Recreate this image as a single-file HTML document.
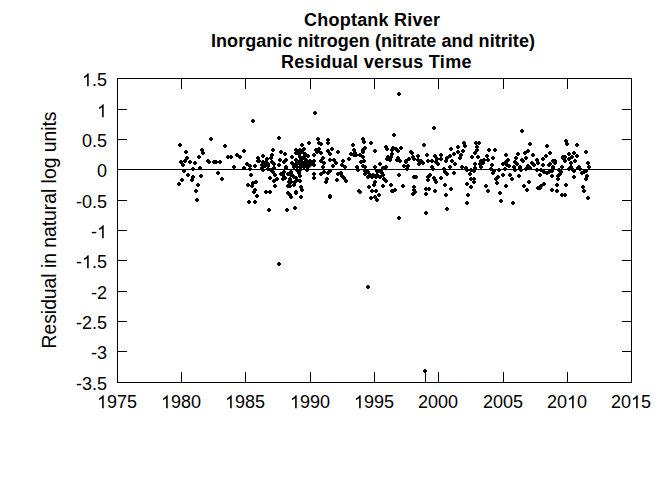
<!DOCTYPE html>
<html><head><meta charset="utf-8"><style>
html,body{margin:0;padding:0;background:#fff;width:672px;height:480px;overflow:hidden;position:relative}
.t{position:absolute;font-family:"Liberation Sans",sans-serif;color:#000;white-space:nowrap;line-height:20px}
.ti{font-weight:bold;font-size:18px}
.yl{font-size:18px;right:565px;text-align:right}
.o{position:relative;color:transparent}.o svg{position:absolute;left:0;top:0;overflow:visible}
.xl{font-size:18px;width:80px;text-align:center}
</style></head><body>
<svg width="672" height="480" style="position:absolute;left:0;top:0" shape-rendering="crispEdges"><rect x="117" y="78" width="515" height="1"/><rect x="117" y="382" width="515" height="1"/><rect x="117" y="78" width="1" height="305"/><rect x="631" y="78" width="1" height="305"/><rect x="181" y="78" width="1" height="11"/><rect x="181" y="372" width="1" height="10"/><rect x="245" y="78" width="1" height="11"/><rect x="245" y="372" width="1" height="10"/><rect x="310" y="78" width="1" height="11"/><rect x="310" y="372" width="1" height="10"/><rect x="374" y="78" width="1" height="11"/><rect x="374" y="372" width="1" height="10"/><rect x="438" y="78" width="1" height="11"/><rect x="438" y="372" width="1" height="10"/><rect x="503" y="78" width="1" height="11"/><rect x="503" y="372" width="1" height="10"/><rect x="567" y="78" width="1" height="11"/><rect x="567" y="372" width="1" height="10"/><rect x="117" y="109" width="10" height="1"/><rect x="622" y="109" width="10" height="1"/><rect x="117" y="139" width="10" height="1"/><rect x="622" y="139" width="10" height="1"/><rect x="117" y="169" width="10" height="1"/><rect x="622" y="169" width="10" height="1"/><rect x="117" y="200" width="10" height="1"/><rect x="622" y="200" width="10" height="1"/><rect x="117" y="230" width="10" height="1"/><rect x="622" y="230" width="10" height="1"/><rect x="117" y="260" width="10" height="1"/><rect x="622" y="260" width="10" height="1"/><rect x="117" y="291" width="10" height="1"/><rect x="622" y="291" width="10" height="1"/><rect x="117" y="321" width="10" height="1"/><rect x="622" y="321" width="10" height="1"/><rect x="117" y="351" width="10" height="1"/><rect x="622" y="351" width="10" height="1"/><rect x="117" y="169" width="515" height="1"/><path d="M179 143h2v1h1v2h-1v1h-2v-1h-1v-2h1zM210 137h2v1h1v2h-1v1h-2v-1h-1v-2h1zM224 144h2v1h1v2h-1v1h-2v-1h-1v-2h1zM185 150h2v1h1v2h-1v1h-2v-1h-1v-2h1zM201 148h2v1h1v2h-1v1h-2v-1h-1v-2h1zM202 151h2v1h1v2h-1v1h-2v-1h-1v-2h1zM186 156h2v1h1v2h-1v1h-2v-1h-1v-2h1zM198 155h2v1h1v2h-1v1h-2v-1h-1v-2h1zM184 159h2v1h1v2h-1v1h-2v-1h-1v-2h1zM180 160h2v1h1v2h-1v1h-2v-1h-1v-2h1zM182 163h2v1h1v2h-1v1h-2v-1h-1v-2h1zM189 160h2v1h1v2h-1v1h-2v-1h-1v-2h1zM194 161h2v1h1v2h-1v1h-2v-1h-1v-2h1zM207 159h2v1h1v2h-1v1h-2v-1h-1v-2h1zM208 160h2v1h1v2h-1v1h-2v-1h-1v-2h1zM213 160h2v1h1v2h-1v1h-2v-1h-1v-2h1zM215 160h2v1h1v2h-1v1h-2v-1h-1v-2h1zM219 160h2v1h1v2h-1v1h-2v-1h-1v-2h1zM227 155h2v1h1v2h-1v1h-2v-1h-1v-2h1zM230 155h2v1h1v2h-1v1h-2v-1h-1v-2h1zM236 153h2v1h1v2h-1v1h-2v-1h-1v-2h1zM233 165h2v1h1v2h-1v1h-2v-1h-1v-2h1zM183 169h2v1h1v2h-1v1h-2v-1h-1v-2h1zM192 167h2v1h1v2h-1v1h-2v-1h-1v-2h1zM199 166h2v1h1v2h-1v1h-2v-1h-1v-2h1zM187 173h2v1h1v2h-1v1h-2v-1h-1v-2h1zM200 174h2v1h1v2h-1v1h-2v-1h-1v-2h1zM217 171h2v1h1v2h-1v1h-2v-1h-1v-2h1zM221 177h2v1h1v2h-1v1h-2v-1h-1v-2h1zM191 178h2v1h1v2h-1v1h-2v-1h-1v-2h1zM181 178h2v1h1v2h-1v1h-2v-1h-1v-2h1zM178 182h2v1h1v2h-1v1h-2v-1h-1v-2h1zM197 183h2v1h1v2h-1v1h-2v-1h-1v-2h1zM195 189h2v1h1v2h-1v1h-2v-1h-1v-2h1zM196 198h2v1h1v2h-1v1h-2v-1h-1v-2h1zM252 119h2v1h1v2h-1v1h-2v-1h-1v-2h1zM278 136h2v1h1v2h-1v1h-2v-1h-1v-2h1zM243 149h2v1h1v2h-1v1h-2v-1h-1v-2h1zM239 155h2v1h1v2h-1v1h-2v-1h-1v-2h1zM272 148h2v1h1v2h-1v1h-2v-1h-1v-2h1zM280 150h2v1h1v2h-1v1h-2v-1h-1v-2h1zM284 152h2v1h1v2h-1v1h-2v-1h-1v-2h1zM262 154h2v1h1v2h-1v1h-2v-1h-1v-2h1zM257 156h2v1h1v2h-1v1h-2v-1h-1v-2h1zM271 153h2v1h1v2h-1v1h-2v-1h-1v-2h1zM266 157h2v1h1v2h-1v1h-2v-1h-1v-2h1zM270 156h2v1h1v2h-1v1h-2v-1h-1v-2h1zM271 160h2v1h1v2h-1v1h-2v-1h-1v-2h1zM279 158h2v1h1v2h-1v1h-2v-1h-1v-2h1zM285 158h2v1h1v2h-1v1h-2v-1h-1v-2h1zM283 160h2v1h1v2h-1v1h-2v-1h-1v-2h1zM278 163h2v1h1v2h-1v1h-2v-1h-1v-2h1zM273 162h2v1h1v2h-1v1h-2v-1h-1v-2h1zM246 162h2v1h1v2h-1v1h-2v-1h-1v-2h1zM249 164h2v1h1v2h-1v1h-2v-1h-1v-2h1zM243 166h2v1h1v2h-1v1h-2v-1h-1v-2h1zM254 164h2v1h1v2h-1v1h-2v-1h-1v-2h1zM258 159h2v1h1v2h-1v1h-2v-1h-1v-2h1zM262 160h2v1h1v2h-1v1h-2v-1h-1v-2h1zM261 163h2v1h1v2h-1v1h-2v-1h-1v-2h1zM264 163h2v1h1v2h-1v1h-2v-1h-1v-2h1zM285 165h2v1h1v2h-1v1h-2v-1h-1v-2h1zM249 167h2v1h1v2h-1v1h-2v-1h-1v-2h1zM262 168h2v1h1v2h-1v1h-2v-1h-1v-2h1zM250 173h2v1h1v2h-1v1h-2v-1h-1v-2h1zM269 176h2v1h1v2h-1v1h-2v-1h-1v-2h1zM272 170h2v1h1v2h-1v1h-2v-1h-1v-2h1zM270 168h2v1h1v2h-1v1h-2v-1h-1v-2h1zM274 173h2v1h1v2h-1v1h-2v-1h-1v-2h1zM276 177h2v1h1v2h-1v1h-2v-1h-1v-2h1zM273 179h2v1h1v2h-1v1h-2v-1h-1v-2h1zM280 172h2v1h1v2h-1v1h-2v-1h-1v-2h1zM282 173h2v1h1v2h-1v1h-2v-1h-1v-2h1zM283 170h2v1h1v2h-1v1h-2v-1h-1v-2h1zM285 166h2v1h1v2h-1v1h-2v-1h-1v-2h1zM282 177h2v1h1v2h-1v1h-2v-1h-1v-2h1zM284 176h2v1h1v2h-1v1h-2v-1h-1v-2h1zM288 180h2v1h1v2h-1v1h-2v-1h-1v-2h1zM287 184h2v1h1v2h-1v1h-2v-1h-1v-2h1zM274 184h2v1h1v2h-1v1h-2v-1h-1v-2h1zM255 180h2v1h1v2h-1v1h-2v-1h-1v-2h1zM252 181h2v1h1v2h-1v1h-2v-1h-1v-2h1zM247 183h2v1h1v2h-1v1h-2v-1h-1v-2h1zM251 184h2v1h1v2h-1v1h-2v-1h-1v-2h1zM254 188h2v1h1v2h-1v1h-2v-1h-1v-2h1zM265 190h2v1h1v2h-1v1h-2v-1h-1v-2h1zM269 190h2v1h1v2h-1v1h-2v-1h-1v-2h1zM267 164h2v1h1v2h-1v1h-2v-1h-1v-2h1zM263 162h2v1h1v2h-1v1h-2v-1h-1v-2h1zM261 166h2v1h1v2h-1v1h-2v-1h-1v-2h1zM267 167h2v1h1v2h-1v1h-2v-1h-1v-2h1zM257 159h2v1h1v2h-1v1h-2v-1h-1v-2h1zM273 166h2v1h1v2h-1v1h-2v-1h-1v-2h1zM317 137h2v1h1v2h-1v1h-2v-1h-1v-2h1zM327 138h2v1h1v2h-1v1h-2v-1h-1v-2h1zM327 141h2v1h1v2h-1v1h-2v-1h-1v-2h1zM318 141h2v1h1v2h-1v1h-2v-1h-1v-2h1zM320 142h2v1h1v2h-1v1h-2v-1h-1v-2h1zM308 141h2v1h1v2h-1v1h-2v-1h-1v-2h1zM301 143h2v1h1v2h-1v1h-2v-1h-1v-2h1zM295 148h2v1h1v2h-1v1h-2v-1h-1v-2h1zM303 147h2v1h1v2h-1v1h-2v-1h-1v-2h1zM299 148h2v1h1v2h-1v1h-2v-1h-1v-2h1zM295 151h2v1h1v2h-1v1h-2v-1h-1v-2h1zM298 152h2v1h1v2h-1v1h-2v-1h-1v-2h1zM301 150h2v1h1v2h-1v1h-2v-1h-1v-2h1zM304 152h2v1h1v2h-1v1h-2v-1h-1v-2h1zM307 154h2v1h1v2h-1v1h-2v-1h-1v-2h1zM291 155h2v1h1v2h-1v1h-2v-1h-1v-2h1zM299 155h2v1h1v2h-1v1h-2v-1h-1v-2h1zM295 158h2v1h1v2h-1v1h-2v-1h-1v-2h1zM299 159h2v1h1v2h-1v1h-2v-1h-1v-2h1zM291 161h2v1h1v2h-1v1h-2v-1h-1v-2h1zM295 162h2v1h1v2h-1v1h-2v-1h-1v-2h1zM299 162h2v1h1v2h-1v1h-2v-1h-1v-2h1zM302 161h2v1h1v2h-1v1h-2v-1h-1v-2h1zM305 158h2v1h1v2h-1v1h-2v-1h-1v-2h1zM303 164h2v1h1v2h-1v1h-2v-1h-1v-2h1zM306 162h2v1h1v2h-1v1h-2v-1h-1v-2h1zM309 159h2v1h1v2h-1v1h-2v-1h-1v-2h1zM313 159h2v1h1v2h-1v1h-2v-1h-1v-2h1zM309 163h2v1h1v2h-1v1h-2v-1h-1v-2h1zM313 163h2v1h1v2h-1v1h-2v-1h-1v-2h1zM293 164h2v1h1v2h-1v1h-2v-1h-1v-2h1zM315 148h2v1h1v2h-1v1h-2v-1h-1v-2h1zM318 147h2v1h1v2h-1v1h-2v-1h-1v-2h1zM320 151h2v1h1v2h-1v1h-2v-1h-1v-2h1zM316 150h2v1h1v2h-1v1h-2v-1h-1v-2h1zM313 153h2v1h1v2h-1v1h-2v-1h-1v-2h1zM327 149h2v1h1v2h-1v1h-2v-1h-1v-2h1zM331 147h2v1h1v2h-1v1h-2v-1h-1v-2h1zM329 152h2v1h1v2h-1v1h-2v-1h-1v-2h1zM337 150h2v1h1v2h-1v1h-2v-1h-1v-2h1zM322 156h2v1h1v2h-1v1h-2v-1h-1v-2h1zM320 159h2v1h1v2h-1v1h-2v-1h-1v-2h1zM323 161h2v1h1v2h-1v1h-2v-1h-1v-2h1zM329 158h2v1h1v2h-1v1h-2v-1h-1v-2h1zM333 158h2v1h1v2h-1v1h-2v-1h-1v-2h1zM335 161h2v1h1v2h-1v1h-2v-1h-1v-2h1zM332 164h2v1h1v2h-1v1h-2v-1h-1v-2h1zM322 165h2v1h1v2h-1v1h-2v-1h-1v-2h1zM296 168h2v1h1v2h-1v1h-2v-1h-1v-2h1zM299 168h2v1h1v2h-1v1h-2v-1h-1v-2h1zM298 171h2v1h1v2h-1v1h-2v-1h-1v-2h1zM306 168h2v1h1v2h-1v1h-2v-1h-1v-2h1zM290 170h2v1h1v2h-1v1h-2v-1h-1v-2h1zM291 173h2v1h1v2h-1v1h-2v-1h-1v-2h1zM299 174h2v1h1v2h-1v1h-2v-1h-1v-2h1zM295 176h2v1h1v2h-1v1h-2v-1h-1v-2h1zM289 177h2v1h1v2h-1v1h-2v-1h-1v-2h1zM299 179h2v1h1v2h-1v1h-2v-1h-1v-2h1zM294 180h2v1h1v2h-1v1h-2v-1h-1v-2h1zM290 180h2v1h1v2h-1v1h-2v-1h-1v-2h1zM293 183h2v1h1v2h-1v1h-2v-1h-1v-2h1zM289 184h2v1h1v2h-1v1h-2v-1h-1v-2h1zM300 185h2v1h1v2h-1v1h-2v-1h-1v-2h1zM301 188h2v1h1v2h-1v1h-2v-1h-1v-2h1zM295 190h2v1h1v2h-1v1h-2v-1h-1v-2h1zM313 172h2v1h1v2h-1v1h-2v-1h-1v-2h1zM313 176h2v1h1v2h-1v1h-2v-1h-1v-2h1zM320 172h2v1h1v2h-1v1h-2v-1h-1v-2h1zM323 170h2v1h1v2h-1v1h-2v-1h-1v-2h1zM327 171h2v1h1v2h-1v1h-2v-1h-1v-2h1zM329 169h2v1h1v2h-1v1h-2v-1h-1v-2h1zM326 177h2v1h1v2h-1v1h-2v-1h-1v-2h1zM325 180h2v1h1v2h-1v1h-2v-1h-1v-2h1zM337 172h2v1h1v2h-1v1h-2v-1h-1v-2h1zM336 178h2v1h1v2h-1v1h-2v-1h-1v-2h1zM296 150h2v1h1v2h-1v1h-2v-1h-1v-2h1zM308 160h2v1h1v2h-1v1h-2v-1h-1v-2h1zM303 155h2v1h1v2h-1v1h-2v-1h-1v-2h1zM317 149h2v1h1v2h-1v1h-2v-1h-1v-2h1zM296 159h2v1h1v2h-1v1h-2v-1h-1v-2h1zM314 111h2v1h1v2h-1v1h-2v-1h-1v-2h1zM362 137h2v1h1v2h-1v1h-2v-1h-1v-2h1zM363 140h2v1h1v2h-1v1h-2v-1h-1v-2h1zM370 141h2v1h1v2h-1v1h-2v-1h-1v-2h1zM352 143h2v1h1v2h-1v1h-2v-1h-1v-2h1zM353 148h2v1h1v2h-1v1h-2v-1h-1v-2h1zM350 152h2v1h1v2h-1v1h-2v-1h-1v-2h1zM354 151h2v1h1v2h-1v1h-2v-1h-1v-2h1zM355 153h2v1h1v2h-1v1h-2v-1h-1v-2h1zM353 153h2v1h1v2h-1v1h-2v-1h-1v-2h1zM364 146h2v1h1v2h-1v1h-2v-1h-1v-2h1zM362 148h2v1h1v2h-1v1h-2v-1h-1v-2h1zM362 150h2v1h1v2h-1v1h-2v-1h-1v-2h1zM359 153h2v1h1v2h-1v1h-2v-1h-1v-2h1zM362 155h2v1h1v2h-1v1h-2v-1h-1v-2h1zM374 149h2v1h1v2h-1v1h-2v-1h-1v-2h1zM385 145h2v1h1v2h-1v1h-2v-1h-1v-2h1zM386 147h2v1h1v2h-1v1h-2v-1h-1v-2h1zM387 155h2v1h1v2h-1v1h-2v-1h-1v-2h1zM386 157h2v1h1v2h-1v1h-2v-1h-1v-2h1zM348 157h2v1h1v2h-1v1h-2v-1h-1v-2h1zM342 159h2v1h1v2h-1v1h-2v-1h-1v-2h1zM341 163h2v1h1v2h-1v1h-2v-1h-1v-2h1zM344 165h2v1h1v2h-1v1h-2v-1h-1v-2h1zM363 159h2v1h1v2h-1v1h-2v-1h-1v-2h1zM360 160h2v1h1v2h-1v1h-2v-1h-1v-2h1zM356 165h2v1h1v2h-1v1h-2v-1h-1v-2h1zM362 164h2v1h1v2h-1v1h-2v-1h-1v-2h1zM364 165h2v1h1v2h-1v1h-2v-1h-1v-2h1zM379 162h2v1h1v2h-1v1h-2v-1h-1v-2h1zM374 165h2v1h1v2h-1v1h-2v-1h-1v-2h1zM385 165h2v1h1v2h-1v1h-2v-1h-1v-2h1zM357 168h2v1h1v2h-1v1h-2v-1h-1v-2h1zM364 169h2v1h1v2h-1v1h-2v-1h-1v-2h1zM364 172h2v1h1v2h-1v1h-2v-1h-1v-2h1zM367 175h2v1h1v2h-1v1h-2v-1h-1v-2h1zM371 175h2v1h1v2h-1v1h-2v-1h-1v-2h1zM375 175h2v1h1v2h-1v1h-2v-1h-1v-2h1zM376 169h2v1h1v2h-1v1h-2v-1h-1v-2h1zM380 169h2v1h1v2h-1v1h-2v-1h-1v-2h1zM381 171h2v1h1v2h-1v1h-2v-1h-1v-2h1zM376 173h2v1h1v2h-1v1h-2v-1h-1v-2h1zM379 175h2v1h1v2h-1v1h-2v-1h-1v-2h1zM382 173h2v1h1v2h-1v1h-2v-1h-1v-2h1zM383 177h2v1h1v2h-1v1h-2v-1h-1v-2h1zM385 179h2v1h1v2h-1v1h-2v-1h-1v-2h1zM369 173h2v1h1v2h-1v1h-2v-1h-1v-2h1zM372 173h2v1h1v2h-1v1h-2v-1h-1v-2h1zM382 166h2v1h1v2h-1v1h-2v-1h-1v-2h1zM340 171h2v1h1v2h-1v1h-2v-1h-1v-2h1zM341 174h2v1h1v2h-1v1h-2v-1h-1v-2h1zM343 176h2v1h1v2h-1v1h-2v-1h-1v-2h1zM345 179h2v1h1v2h-1v1h-2v-1h-1v-2h1zM374 180h2v1h1v2h-1v1h-2v-1h-1v-2h1zM373 183h2v1h1v2h-1v1h-2v-1h-1v-2h1zM368 185h2v1h1v2h-1v1h-2v-1h-1v-2h1zM382 184h2v1h1v2h-1v1h-2v-1h-1v-2h1zM358 189h2v1h1v2h-1v1h-2v-1h-1v-2h1zM371 189h2v1h1v2h-1v1h-2v-1h-1v-2h1zM375 189h2v1h1v2h-1v1h-2v-1h-1v-2h1zM393 133h2v1h1v2h-1v1h-2v-1h-1v-2h1zM423 143h2v1h1v2h-1v1h-2v-1h-1v-2h1zM392 146h2v1h1v2h-1v1h-2v-1h-1v-2h1zM391 148h2v1h1v2h-1v1h-2v-1h-1v-2h1zM395 147h2v1h1v2h-1v1h-2v-1h-1v-2h1zM397 149h2v1h1v2h-1v1h-2v-1h-1v-2h1zM400 146h2v1h1v2h-1v1h-2v-1h-1v-2h1zM391 152h2v1h1v2h-1v1h-2v-1h-1v-2h1zM390 155h2v1h1v2h-1v1h-2v-1h-1v-2h1zM389 158h2v1h1v2h-1v1h-2v-1h-1v-2h1zM397 156h2v1h1v2h-1v1h-2v-1h-1v-2h1zM396 158h2v1h1v2h-1v1h-2v-1h-1v-2h1zM399 159h2v1h1v2h-1v1h-2v-1h-1v-2h1zM410 150h2v1h1v2h-1v1h-2v-1h-1v-2h1zM411 151h2v1h1v2h-1v1h-2v-1h-1v-2h1zM412 155h2v1h1v2h-1v1h-2v-1h-1v-2h1zM413 157h2v1h1v2h-1v1h-2v-1h-1v-2h1zM408 157h2v1h1v2h-1v1h-2v-1h-1v-2h1zM405 159h2v1h1v2h-1v1h-2v-1h-1v-2h1zM405 160h2v1h1v2h-1v1h-2v-1h-1v-2h1zM403 164h2v1h1v2h-1v1h-2v-1h-1v-2h1zM407 164h2v1h1v2h-1v1h-2v-1h-1v-2h1zM417 154h2v1h1v2h-1v1h-2v-1h-1v-2h1zM417 158h2v1h1v2h-1v1h-2v-1h-1v-2h1zM420 159h2v1h1v2h-1v1h-2v-1h-1v-2h1zM422 161h2v1h1v2h-1v1h-2v-1h-1v-2h1zM418 162h2v1h1v2h-1v1h-2v-1h-1v-2h1zM426 153h2v1h1v2h-1v1h-2v-1h-1v-2h1zM427 159h2v1h1v2h-1v1h-2v-1h-1v-2h1zM431 159h2v1h1v2h-1v1h-2v-1h-1v-2h1zM434 154h2v1h1v2h-1v1h-2v-1h-1v-2h1zM436 157h2v1h1v2h-1v1h-2v-1h-1v-2h1zM435 160h2v1h1v2h-1v1h-2v-1h-1v-2h1zM437 162h2v1h1v2h-1v1h-2v-1h-1v-2h1zM431 165h2v1h1v2h-1v1h-2v-1h-1v-2h1zM406 167h2v1h1v2h-1v1h-2v-1h-1v-2h1zM432 167h2v1h1v2h-1v1h-2v-1h-1v-2h1zM398 173h2v1h1v2h-1v1h-2v-1h-1v-2h1zM413 175h2v1h1v2h-1v1h-2v-1h-1v-2h1zM415 175h2v1h1v2h-1v1h-2v-1h-1v-2h1zM429 173h2v1h1v2h-1v1h-2v-1h-1v-2h1zM427 175h2v1h1v2h-1v1h-2v-1h-1v-2h1zM427 178h2v1h1v2h-1v1h-2v-1h-1v-2h1zM433 176h2v1h1v2h-1v1h-2v-1h-1v-2h1zM434 178h2v1h1v2h-1v1h-2v-1h-1v-2h1zM435 180h2v1h1v2h-1v1h-2v-1h-1v-2h1zM390 183h2v1h1v2h-1v1h-2v-1h-1v-2h1zM402 184h2v1h1v2h-1v1h-2v-1h-1v-2h1zM394 188h2v1h1v2h-1v1h-2v-1h-1v-2h1zM391 189h2v1h1v2h-1v1h-2v-1h-1v-2h1zM413 185h2v1h1v2h-1v1h-2v-1h-1v-2h1zM413 188h2v1h1v2h-1v1h-2v-1h-1v-2h1zM425 187h2v1h1v2h-1v1h-2v-1h-1v-2h1zM428 187h2v1h1v2h-1v1h-2v-1h-1v-2h1zM434 189h2v1h1v2h-1v1h-2v-1h-1v-2h1zM463 141h2v1h1v2h-1v1h-2v-1h-1v-2h1zM464 144h2v1h1v2h-1v1h-2v-1h-1v-2h1zM475 141h2v1h1v2h-1v1h-2v-1h-1v-2h1zM478 141h2v1h1v2h-1v1h-2v-1h-1v-2h1zM476 145h2v1h1v2h-1v1h-2v-1h-1v-2h1zM476 148h2v1h1v2h-1v1h-2v-1h-1v-2h1zM474 151h2v1h1v2h-1v1h-2v-1h-1v-2h1zM471 155h2v1h1v2h-1v1h-2v-1h-1v-2h1zM477 155h2v1h1v2h-1v1h-2v-1h-1v-2h1zM450 147h2v1h1v2h-1v1h-2v-1h-1v-2h1zM457 145h2v1h1v2h-1v1h-2v-1h-1v-2h1zM462 149h2v1h1v2h-1v1h-2v-1h-1v-2h1zM457 150h2v1h1v2h-1v1h-2v-1h-1v-2h1zM453 152h2v1h1v2h-1v1h-2v-1h-1v-2h1zM449 154h2v1h1v2h-1v1h-2v-1h-1v-2h1zM446 156h2v1h1v2h-1v1h-2v-1h-1v-2h1zM445 159h2v1h1v2h-1v1h-2v-1h-1v-2h1zM460 153h2v1h1v2h-1v1h-2v-1h-1v-2h1zM459 156h2v1h1v2h-1v1h-2v-1h-1v-2h1zM451 159h2v1h1v2h-1v1h-2v-1h-1v-2h1zM454 162h2v1h1v2h-1v1h-2v-1h-1v-2h1zM440 153h2v1h1v2h-1v1h-2v-1h-1v-2h1zM440 157h2v1h1v2h-1v1h-2v-1h-1v-2h1zM474 162h2v1h1v2h-1v1h-2v-1h-1v-2h1zM480 159h2v1h1v2h-1v1h-2v-1h-1v-2h1zM483 158h2v1h1v2h-1v1h-2v-1h-1v-2h1zM479 162h2v1h1v2h-1v1h-2v-1h-1v-2h1zM482 161h2v1h1v2h-1v1h-2v-1h-1v-2h1zM488 148h2v1h1v2h-1v1h-2v-1h-1v-2h1zM486 154h2v1h1v2h-1v1h-2v-1h-1v-2h1zM487 158h2v1h1v2h-1v1h-2v-1h-1v-2h1zM449 165h2v1h1v2h-1v1h-2v-1h-1v-2h1zM461 165h2v1h1v2h-1v1h-2v-1h-1v-2h1zM465 166h2v1h1v2h-1v1h-2v-1h-1v-2h1zM480 165h2v1h1v2h-1v1h-2v-1h-1v-2h1zM443 167h2v1h1v2h-1v1h-2v-1h-1v-2h1zM444 170h2v1h1v2h-1v1h-2v-1h-1v-2h1zM446 172h2v1h1v2h-1v1h-2v-1h-1v-2h1zM453 171h2v1h1v2h-1v1h-2v-1h-1v-2h1zM440 176h2v1h1v2h-1v1h-2v-1h-1v-2h1zM465 167h2v1h1v2h-1v1h-2v-1h-1v-2h1zM466 168h2v1h1v2h-1v1h-2v-1h-1v-2h1zM470 168h2v1h1v2h-1v1h-2v-1h-1v-2h1zM473 169h2v1h1v2h-1v1h-2v-1h-1v-2h1zM474 166h2v1h1v2h-1v1h-2v-1h-1v-2h1zM469 172h2v1h1v2h-1v1h-2v-1h-1v-2h1zM470 177h2v1h1v2h-1v1h-2v-1h-1v-2h1zM473 177h2v1h1v2h-1v1h-2v-1h-1v-2h1zM473 180h2v1h1v2h-1v1h-2v-1h-1v-2h1zM466 182h2v1h1v2h-1v1h-2v-1h-1v-2h1zM470 185h2v1h1v2h-1v1h-2v-1h-1v-2h1zM444 183h2v1h1v2h-1v1h-2v-1h-1v-2h1zM450 187h2v1h1v2h-1v1h-2v-1h-1v-2h1zM485 184h2v1h1v2h-1v1h-2v-1h-1v-2h1zM487 189h2v1h1v2h-1v1h-2v-1h-1v-2h1zM529 142h2v1h1v2h-1v1h-2v-1h-1v-2h1zM494 148h2v1h1v2h-1v1h-2v-1h-1v-2h1zM505 153h2v1h1v2h-1v1h-2v-1h-1v-2h1zM517 152h2v1h1v2h-1v1h-2v-1h-1v-2h1zM524 151h2v1h1v2h-1v1h-2v-1h-1v-2h1zM527 149h2v1h1v2h-1v1h-2v-1h-1v-2h1zM532 153h2v1h1v2h-1v1h-2v-1h-1v-2h1zM492 156h2v1h1v2h-1v1h-2v-1h-1v-2h1zM515 156h2v1h1v2h-1v1h-2v-1h-1v-2h1zM507 158h2v1h1v2h-1v1h-2v-1h-1v-2h1zM505 160h2v1h1v2h-1v1h-2v-1h-1v-2h1zM502 162h2v1h1v2h-1v1h-2v-1h-1v-2h1zM506 163h2v1h1v2h-1v1h-2v-1h-1v-2h1zM508 164h2v1h1v2h-1v1h-2v-1h-1v-2h1zM514 160h2v1h1v2h-1v1h-2v-1h-1v-2h1zM516 162h2v1h1v2h-1v1h-2v-1h-1v-2h1zM521 158h2v1h1v2h-1v1h-2v-1h-1v-2h1zM522 159h2v1h1v2h-1v1h-2v-1h-1v-2h1zM525 156h2v1h1v2h-1v1h-2v-1h-1v-2h1zM491 163h2v1h1v2h-1v1h-2v-1h-1v-2h1zM513 165h2v1h1v2h-1v1h-2v-1h-1v-2h1zM519 165h2v1h1v2h-1v1h-2v-1h-1v-2h1zM527 164h2v1h1v2h-1v1h-2v-1h-1v-2h1zM531 161h2v1h1v2h-1v1h-2v-1h-1v-2h1zM533 163h2v1h1v2h-1v1h-2v-1h-1v-2h1zM536 158h2v1h1v2h-1v1h-2v-1h-1v-2h1zM537 161h2v1h1v2h-1v1h-2v-1h-1v-2h1zM490 167h2v1h1v2h-1v1h-2v-1h-1v-2h1zM493 169h2v1h1v2h-1v1h-2v-1h-1v-2h1zM492 171h2v1h1v2h-1v1h-2v-1h-1v-2h1zM498 168h2v1h1v2h-1v1h-2v-1h-1v-2h1zM504 167h2v1h1v2h-1v1h-2v-1h-1v-2h1zM502 173h2v1h1v2h-1v1h-2v-1h-1v-2h1zM509 173h2v1h1v2h-1v1h-2v-1h-1v-2h1zM497 175h2v1h1v2h-1v1h-2v-1h-1v-2h1zM495 177h2v1h1v2h-1v1h-2v-1h-1v-2h1zM496 181h2v1h1v2h-1v1h-2v-1h-1v-2h1zM511 177h2v1h1v2h-1v1h-2v-1h-1v-2h1zM518 174h2v1h1v2h-1v1h-2v-1h-1v-2h1zM514 168h2v1h1v2h-1v1h-2v-1h-1v-2h1zM519 166h2v1h1v2h-1v1h-2v-1h-1v-2h1zM520 168h2v1h1v2h-1v1h-2v-1h-1v-2h1zM525 167h2v1h1v2h-1v1h-2v-1h-1v-2h1zM529 166h2v1h1v2h-1v1h-2v-1h-1v-2h1zM536 168h2v1h1v2h-1v1h-2v-1h-1v-2h1zM528 180h2v1h1v2h-1v1h-2v-1h-1v-2h1zM523 184h2v1h1v2h-1v1h-2v-1h-1v-2h1zM526 188h2v1h1v2h-1v1h-2v-1h-1v-2h1zM505 184h2v1h1v2h-1v1h-2v-1h-1v-2h1zM499 191h2v1h1v2h-1v1h-2v-1h-1v-2h1zM537 186h2v1h1v2h-1v1h-2v-1h-1v-2h1zM565 139h2v1h1v2h-1v1h-2v-1h-1v-2h1zM566 142h2v1h1v2h-1v1h-2v-1h-1v-2h1zM576 143h2v1h1v2h-1v1h-2v-1h-1v-2h1zM546 144h2v1h1v2h-1v1h-2v-1h-1v-2h1zM549 151h2v1h1v2h-1v1h-2v-1h-1v-2h1zM585 150h2v1h1v2h-1v1h-2v-1h-1v-2h1zM545 154h2v1h1v2h-1v1h-2v-1h-1v-2h1zM542 157h2v1h1v2h-1v1h-2v-1h-1v-2h1zM542 163h2v1h1v2h-1v1h-2v-1h-1v-2h1zM552 159h2v1h1v2h-1v1h-2v-1h-1v-2h1zM554 159h2v1h1v2h-1v1h-2v-1h-1v-2h1zM554 161h2v1h1v2h-1v1h-2v-1h-1v-2h1zM549 162h2v1h1v2h-1v1h-2v-1h-1v-2h1zM548 163h2v1h1v2h-1v1h-2v-1h-1v-2h1zM552 165h2v1h1v2h-1v1h-2v-1h-1v-2h1zM568 152h2v1h1v2h-1v1h-2v-1h-1v-2h1zM573 151h2v1h1v2h-1v1h-2v-1h-1v-2h1zM576 154h2v1h1v2h-1v1h-2v-1h-1v-2h1zM562 155h2v1h1v2h-1v1h-2v-1h-1v-2h1zM564 155h2v1h1v2h-1v1h-2v-1h-1v-2h1zM571 155h2v1h1v2h-1v1h-2v-1h-1v-2h1zM564 159h2v1h1v2h-1v1h-2v-1h-1v-2h1zM568 157h2v1h1v2h-1v1h-2v-1h-1v-2h1zM570 161h2v1h1v2h-1v1h-2v-1h-1v-2h1zM574 159h2v1h1v2h-1v1h-2v-1h-1v-2h1zM562 156h2v1h1v2h-1v1h-2v-1h-1v-2h1zM561 165h2v1h1v2h-1v1h-2v-1h-1v-2h1zM570 165h2v1h1v2h-1v1h-2v-1h-1v-2h1zM578 165h2v1h1v2h-1v1h-2v-1h-1v-2h1zM587 161h2v1h1v2h-1v1h-2v-1h-1v-2h1zM588 165h2v1h1v2h-1v1h-2v-1h-1v-2h1zM540 168h2v1h1v2h-1v1h-2v-1h-1v-2h1zM543 170h2v1h1v2h-1v1h-2v-1h-1v-2h1zM546 171h2v1h1v2h-1v1h-2v-1h-1v-2h1zM548 170h2v1h1v2h-1v1h-2v-1h-1v-2h1zM551 169h2v1h1v2h-1v1h-2v-1h-1v-2h1zM552 166h2v1h1v2h-1v1h-2v-1h-1v-2h1zM539 173h2v1h1v2h-1v1h-2v-1h-1v-2h1zM551 174h2v1h1v2h-1v1h-2v-1h-1v-2h1zM558 168h2v1h1v2h-1v1h-2v-1h-1v-2h1zM560 170h2v1h1v2h-1v1h-2v-1h-1v-2h1zM559 172h2v1h1v2h-1v1h-2v-1h-1v-2h1zM557 174h2v1h1v2h-1v1h-2v-1h-1v-2h1zM557 177h2v1h1v2h-1v1h-2v-1h-1v-2h1zM568 167h2v1h1v2h-1v1h-2v-1h-1v-2h1zM571 167h2v1h1v2h-1v1h-2v-1h-1v-2h1zM573 169h2v1h1v2h-1v1h-2v-1h-1v-2h1zM577 166h2v1h1v2h-1v1h-2v-1h-1v-2h1zM579 167h2v1h1v2h-1v1h-2v-1h-1v-2h1zM581 171h2v1h1v2h-1v1h-2v-1h-1v-2h1zM583 170h2v1h1v2h-1v1h-2v-1h-1v-2h1zM585 169h2v1h1v2h-1v1h-2v-1h-1v-2h1zM573 175h2v1h1v2h-1v1h-2v-1h-1v-2h1zM586 174h2v1h1v2h-1v1h-2v-1h-1v-2h1zM585 177h2v1h1v2h-1v1h-2v-1h-1v-2h1zM543 182h2v1h1v2h-1v1h-2v-1h-1v-2h1zM540 184h2v1h1v2h-1v1h-2v-1h-1v-2h1zM539 186h2v1h1v2h-1v1h-2v-1h-1v-2h1zM556 183h2v1h1v2h-1v1h-2v-1h-1v-2h1zM565 183h2v1h1v2h-1v1h-2v-1h-1v-2h1zM551 188h2v1h1v2h-1v1h-2v-1h-1v-2h1zM556 189h2v1h1v2h-1v1h-2v-1h-1v-2h1zM582 185h2v1h1v2h-1v1h-2v-1h-1v-2h1zM583 189h2v1h1v2h-1v1h-2v-1h-1v-2h1zM253 190h2v1h1v2h-1v1h-2v-1h-1v-2h1zM256 194h2v1h1v2h-1v1h-2v-1h-1v-2h1zM248 200h2v1h1v2h-1v1h-2v-1h-1v-2h1zM254 200h2v1h1v2h-1v1h-2v-1h-1v-2h1zM268 208h2v1h1v2h-1v1h-2v-1h-1v-2h1zM287 191h2v1h1v2h-1v1h-2v-1h-1v-2h1zM290 195h2v1h1v2h-1v1h-2v-1h-1v-2h1zM289 193h2v1h1v2h-1v1h-2v-1h-1v-2h1zM295 191h2v1h1v2h-1v1h-2v-1h-1v-2h1zM300 195h2v1h1v2h-1v1h-2v-1h-1v-2h1zM286 208h2v1h1v2h-1v1h-2v-1h-1v-2h1zM294 206h2v1h1v2h-1v1h-2v-1h-1v-2h1zM329 194h2v1h1v2h-1v1h-2v-1h-1v-2h1zM329 195h2v1h1v2h-1v1h-2v-1h-1v-2h1zM359 190h2v1h1v2h-1v1h-2v-1h-1v-2h1zM370 196h2v1h1v2h-1v1h-2v-1h-1v-2h1zM378 193h2v1h1v2h-1v1h-2v-1h-1v-2h1zM374 195h2v1h1v2h-1v1h-2v-1h-1v-2h1zM376 198h2v1h1v2h-1v1h-2v-1h-1v-2h1zM392 189h2v1h1v2h-1v1h-2v-1h-1v-2h1zM414 190h2v1h1v2h-1v1h-2v-1h-1v-2h1zM412 192h2v1h1v2h-1v1h-2v-1h-1v-2h1zM425 192h2v1h1v2h-1v1h-2v-1h-1v-2h1zM425 211h2v1h1v2h-1v1h-2v-1h-1v-2h1zM398 216h2v1h1v2h-1v1h-2v-1h-1v-2h1zM445 193h2v1h1v2h-1v1h-2v-1h-1v-2h1zM446 207h2v1h1v2h-1v1h-2v-1h-1v-2h1zM467 193h2v1h1v2h-1v1h-2v-1h-1v-2h1zM466 201h2v1h1v2h-1v1h-2v-1h-1v-2h1zM500 199h2v1h1v2h-1v1h-2v-1h-1v-2h1zM561 193h2v1h1v2h-1v1h-2v-1h-1v-2h1zM564 193h2v1h1v2h-1v1h-2v-1h-1v-2h1zM512 201h2v1h1v2h-1v1h-2v-1h-1v-2h1zM587 196h2v1h1v2h-1v1h-2v-1h-1v-2h1zM398 92h2v1h1v2h-1v1h-2v-1h-1v-2h1zM433 126h2v1h1v2h-1v1h-2v-1h-1v-2h1zM521 129h2v1h1v2h-1v1h-2v-1h-1v-2h1zM367 285h2v1h1v2h-1v1h-2v-1h-1v-2h1zM424 369h2v1h1v2h-1v1h-2v-1h-1v-2h1zM278 262h2v1h1v2h-1v1h-2v-1h-1v-2h1zM192 175h2v1h1v2h-1v1h-2v-1h-1v-2h1zM264 164h2v1h1v2h-1v1h-2v-1h-1v-2h1zM267 162h2v1h1v2h-1v1h-2v-1h-1v-2h1zM265 160h2v1h1v2h-1v1h-2v-1h-1v-2h1zM287 172h2v1h1v2h-1v1h-2v-1h-1v-2h1zM367 170h2v1h1v2h-1v1h-2v-1h-1v-2h1zM378 169h2v1h1v2h-1v1h-2v-1h-1v-2h1zM301 157h2v1h1v2h-1v1h-2v-1h-1v-2h1zM297 160h2v1h1v2h-1v1h-2v-1h-1v-2h1zM304 160h2v1h1v2h-1v1h-2v-1h-1v-2h1zM311 161h2v1h1v2h-1v1h-2v-1h-1v-2h1zM293 175h2v1h1v2h-1v1h-2v-1h-1v-2h1zM296 178h2v1h1v2h-1v1h-2v-1h-1v-2h1zM290 173h2v1h1v2h-1v1h-2v-1h-1v-2h1zM293 165h2v1h1v2h-1v1h-2v-1h-1v-2h1zM296 165h2v1h1v2h-1v1h-2v-1h-1v-2h1zM300 165h2v1h1v2h-1v1h-2v-1h-1v-2h1zM303 165h2v1h1v2h-1v1h-2v-1h-1v-2h1zM307 165h2v1h1v2h-1v1h-2v-1h-1v-2h1z"/><rect x="425" y="371" width="1" height="11"/>
</svg>
<div class="t ti" style="left:304px;top:10px;letter-spacing:0.23px">Choptank River</div>
<div class="t ti" style="left:211px;top:31px;letter-spacing:0.05px">Inorganic nitrogen (nitrate and nitrite)</div>
<div class="t ti" style="left:281px;top:52px;letter-spacing:0.3px">Residual versus Time</div>
<div class="t yl" style="top:70px"><span class="o">1<svg width="10" height="20"><path transform="translate(0,16.29) scale(0.0087890625,-0.0087890625)" d="M763 0H583V1147Q518 1085 412.5 1023T223 930V1104Q373 1175 487 1276T648 1472H763V0Z"/></svg></span>.5</div>
<div class="t yl" style="top:101px"><span class="o">1<svg width="10" height="20"><path transform="translate(0,16.29) scale(0.0087890625,-0.0087890625)" d="M763 0H583V1147Q518 1085 412.5 1023T223 930V1104Q373 1175 487 1276T648 1472H763V0Z"/></svg></span></div>
<div class="t yl" style="top:131px">0.5</div>
<div class="t yl" style="top:161px">0</div>
<div class="t yl" style="top:192px">-0.5</div>
<div class="t yl" style="top:222px">-<span class="o">1<svg width="10" height="20"><path transform="translate(0,16.29) scale(0.0087890625,-0.0087890625)" d="M763 0H583V1147Q518 1085 412.5 1023T223 930V1104Q373 1175 487 1276T648 1472H763V0Z"/></svg></span></div>
<div class="t yl" style="top:252px">-<span class="o">1<svg width="10" height="20"><path transform="translate(0,16.29) scale(0.0087890625,-0.0087890625)" d="M763 0H583V1147Q518 1085 412.5 1023T223 930V1104Q373 1175 487 1276T648 1472H763V0Z"/></svg></span>.5</div>
<div class="t yl" style="top:283px">-2</div>
<div class="t yl" style="top:313px">-2.5</div>
<div class="t yl" style="top:343px">-3</div>
<div class="t yl" style="top:374px">-3.5</div>
<div class="t xl" style="left:77px;top:392px"><span class="o">1<svg width="10" height="20"><path transform="translate(0,16.29) scale(0.0087890625,-0.0087890625)" d="M763 0H583V1147Q518 1085 412.5 1023T223 930V1104Q373 1175 487 1276T648 1472H763V0Z"/></svg></span>975</div>
<div class="t xl" style="left:141px;top:392px"><span class="o">1<svg width="10" height="20"><path transform="translate(0,16.29) scale(0.0087890625,-0.0087890625)" d="M763 0H583V1147Q518 1085 412.5 1023T223 930V1104Q373 1175 487 1276T648 1472H763V0Z"/></svg></span>980</div>
<div class="t xl" style="left:205px;top:392px"><span class="o">1<svg width="10" height="20"><path transform="translate(0,16.29) scale(0.0087890625,-0.0087890625)" d="M763 0H583V1147Q518 1085 412.5 1023T223 930V1104Q373 1175 487 1276T648 1472H763V0Z"/></svg></span>985</div>
<div class="t xl" style="left:270px;top:392px"><span class="o">1<svg width="10" height="20"><path transform="translate(0,16.29) scale(0.0087890625,-0.0087890625)" d="M763 0H583V1147Q518 1085 412.5 1023T223 930V1104Q373 1175 487 1276T648 1472H763V0Z"/></svg></span>990</div>
<div class="t xl" style="left:334px;top:392px"><span class="o">1<svg width="10" height="20"><path transform="translate(0,16.29) scale(0.0087890625,-0.0087890625)" d="M763 0H583V1147Q518 1085 412.5 1023T223 930V1104Q373 1175 487 1276T648 1472H763V0Z"/></svg></span>995</div>
<div class="t xl" style="left:398px;top:392px">2000</div>
<div class="t xl" style="left:463px;top:392px">2005</div>
<div class="t xl" style="left:527px;top:392px">20<span class="o">1<svg width="10" height="20"><path transform="translate(0,16.29) scale(0.0087890625,-0.0087890625)" d="M763 0H583V1147Q518 1085 412.5 1023T223 930V1104Q373 1175 487 1276T648 1472H763V0Z"/></svg></span>0</div>
<div class="t xl" style="left:591px;top:392px">20<span class="o">1<svg width="10" height="20"><path transform="translate(0,16.29) scale(0.0087890625,-0.0087890625)" d="M763 0H583V1147Q518 1085 412.5 1023T223 930V1104Q373 1175 487 1276T648 1472H763V0Z"/></svg></span>5</div>
<div class="t" style="font-size:19.3px;left:-70px;top:220px;width:240px;text-align:center;transform:rotate(-90deg)">Residual in natural log units</div>
</body></html>
